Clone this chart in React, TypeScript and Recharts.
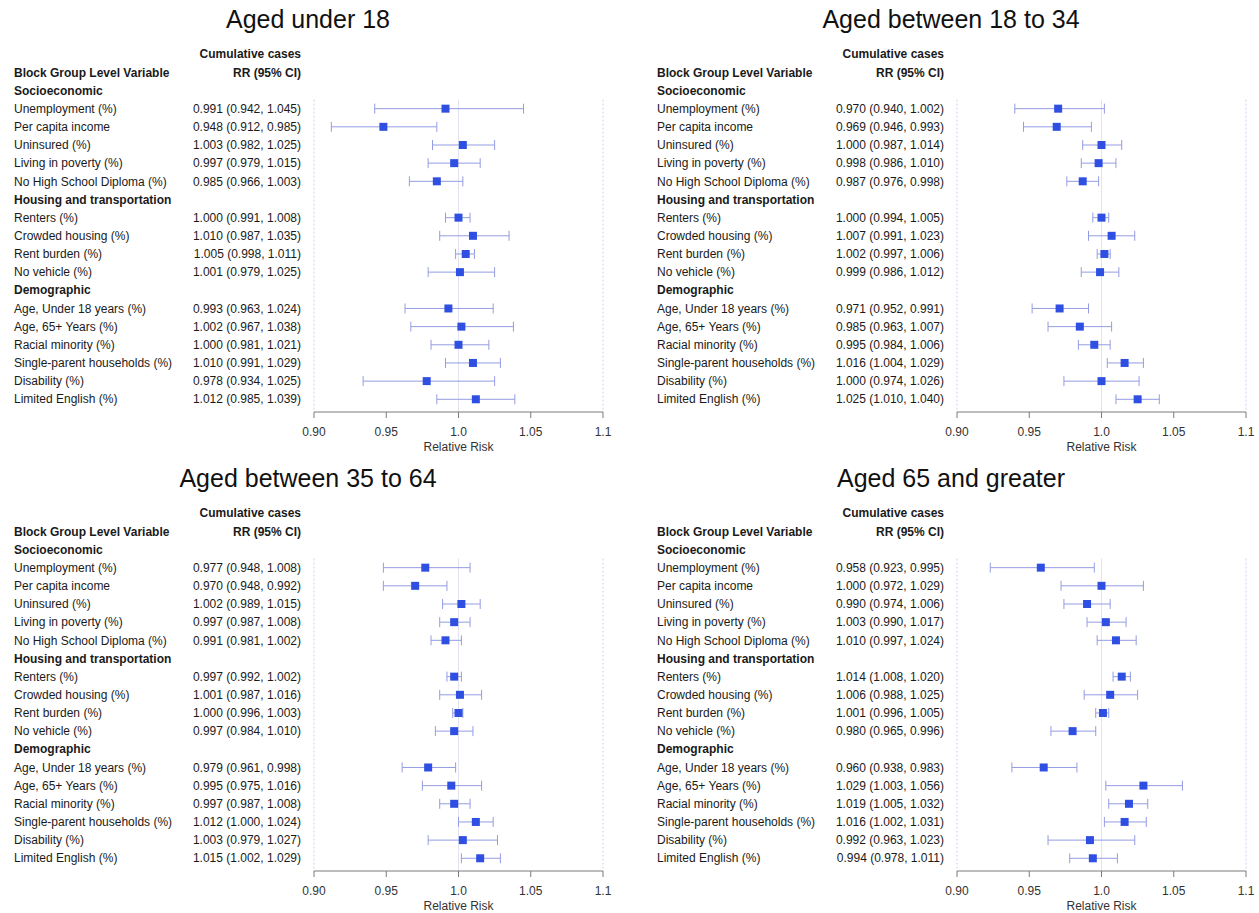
import { ScatterChart, Scatter, XAxis, YAxis, ZAxis, ErrorBar, ReferenceLine } from 'recharts'

const FONT = '"Liberation Sans", Arial, Helvetica, sans-serif'

const panelTitles = ['Aged under 18', 'Aged between 18 to 34', 'Aged between 35 to 64', 'Aged 65 and greater']

const sections = ['Socioeconomic', 'Housing and transportation', 'Demographic']

const variables = [
  'Unemployment (%)',
  'Per capita income',
  'Uninsured (%)',
  'Living in poverty (%)',
  'No High School Diploma (%)',
  'Renters (%)',
  'Crowded housing (%)',
  'Rent burden (%)',
  'No vehicle (%)',
  'Age, Under 18 years (%)',
  'Age, 65+ Years (%)',
  'Racial minority (%)',
  'Single-parent households (%)',
  'Disability (%)',
  'Limited English (%)',
]

// which section each variable belongs to
const variableSection = [0, 0, 0, 0, 0, 1, 1, 1, 1, 2, 2, 2, 2, 2, 2]

// [RR, lower 95% CI, upper 95% CI]
const under18 = [
  [0.991, 0.942, 1.045], [0.948, 0.912, 0.985], [1.003, 0.982, 1.025], [0.997, 0.979, 1.015], [0.985, 0.966, 1.003],
  [1.000, 0.991, 1.008], [1.010, 0.987, 1.035], [1.005, 0.998, 1.011], [1.001, 0.979, 1.025],
  [0.993, 0.963, 1.024], [1.002, 0.967, 1.038], [1.000, 0.981, 1.021], [1.010, 0.991, 1.029], [0.978, 0.934, 1.025], [1.012, 0.985, 1.039],
]
const aged18to34 = [
  [0.970, 0.940, 1.002], [0.969, 0.946, 0.993], [1.000, 0.987, 1.014], [0.998, 0.986, 1.010], [0.987, 0.976, 0.998],
  [1.000, 0.994, 1.005], [1.007, 0.991, 1.023], [1.002, 0.997, 1.006], [0.999, 0.986, 1.012],
  [0.971, 0.952, 0.991], [0.985, 0.963, 1.007], [0.995, 0.984, 1.006], [1.016, 1.004, 1.029], [1.000, 0.974, 1.026], [1.025, 1.010, 1.040],
]
const aged35to64 = [
  [0.977, 0.948, 1.008], [0.970, 0.948, 0.992], [1.002, 0.989, 1.015], [0.997, 0.987, 1.008], [0.991, 0.981, 1.002],
  [0.997, 0.992, 1.002], [1.001, 0.987, 1.016], [1.000, 0.996, 1.003], [0.997, 0.984, 1.010],
  [0.979, 0.961, 0.998], [0.995, 0.975, 1.016], [0.997, 0.987, 1.008], [1.012, 1.000, 1.024], [1.003, 0.979, 1.027], [1.015, 1.002, 1.029],
]
const aged65plus = [
  [0.958, 0.923, 0.995], [1.000, 0.972, 1.029], [0.990, 0.974, 1.006], [1.003, 0.990, 1.017], [1.010, 0.997, 1.024],
  [1.014, 1.008, 1.020], [1.006, 0.988, 1.025], [1.001, 0.996, 1.005], [0.980, 0.965, 0.996],
  [0.960, 0.938, 0.983], [1.029, 1.003, 1.056], [1.019, 1.005, 1.032], [1.016, 1.002, 1.031], [0.992, 0.963, 1.023], [0.994, 0.978, 1.011],
]

const xTicks = [0.9, 0.95, 1.0, 1.05, 1.1]
const xTickLabels = ['0.90', '0.95', '1.0', '1.05', '1.1']

type Row = { idx: number, kind: 'top' | 'head' | 'section' | 'var', label?: string, value?: string }

// row index -> what gets written in the text columns
function buildRows(values: number[][]) {
  const rows: Row[] = [
    { idx: -2, kind: 'top', value: 'Cumulative cases' },
    { idx: -1, kind: 'head', label: 'Block Group Level Variable', value: 'RR (95% CI)' },
  ]
  const points: { x: number, y: number, err: number[] }[] = []
  let idx = 0
  let current = -1
  variables.forEach((name, i) => {
    if (variableSection[i] !== current) {
      current = variableSection[i]
      rows.push({ idx, kind: 'section', label: sections[current] })
      idx++
    }
    const [rr, lo, hi] = values[i]
    rows.push({ idx, kind: 'var', label: name, value: `${rr.toFixed(3)} (${lo.toFixed(3)}, ${hi.toFixed(3)})` })
    points.push({ x: rr, y: idx, err: [rr - lo, hi - rr] })
    idx++
  })
  return { rows, points, last: idx - 1 }
}

function RowTick(props: any) {
  const { y, payload, rows } = props
  const row: Row | undefined = rows.find((r: Row) => r.idx === payload.value)
  if (!row) return <g />
  const bold = row.kind !== 'var'
  return (
    <g>
      {row.label && (
        <text x={14} y={y} dy="0.35em" fontSize={12} fontFamily={FONT} fill="#1a1a1a" fontWeight={bold ? 700 : 400}>
          {row.label}
        </text>
      )}
      {row.value && (
        <text x={301} y={y} dy="0.35em" textAnchor="end" fontSize={12} fontFamily={FONT} fill="#1a1a1a" fontWeight={bold ? 700 : 400}>
          {row.value}
        </text>
      )}
    </g>
  )
}

function ForestPanel({ title, values, left, top }: { title: string, values: number[][], left: number, top: number }) {
  const { rows, points, last } = buildRows(values)
  const tickIdx = rows.map(r => r.idx)

  return (
    <div style={{ position: 'absolute', left, top, width: 640, height: 460 }}>
      <div style={{ position: 'absolute', left: 108, width: 400, top: 7, lineHeight: '25px', textAlign: 'center', fontSize: 25, fontFamily: FONT, color: '#111' }}>
        {title}
      </div>
      <div style={{ position: 'absolute', left: 0, top: 0 }}>
        <ScatterChart width={640} height={460} margin={{ top: 36, right: 37, bottom: 8, left: 0 }}>
          <XAxis
            type="number"
            dataKey="x"
            domain={[0.9, 1.1]}
            ticks={xTicks}
            interval={0}
            tickFormatter={(v: number) => xTickLabels[xTicks.indexOf(v)] ?? String(v)}
            axisLine={{ stroke: '#7a7a7a' }}
            tickLine={{ stroke: '#7a7a7a' }}
            tickSize={6}
            tickMargin={9}
            height={40}
            tick={{ fontSize: 12, fill: '#333', fontFamily: FONT }}
            label={{ value: 'Relative Risk', position: 'insideBottom', offset: 1, fontSize: 12, fill: '#333', fontFamily: FONT }}
          />
          <YAxis
            type="number"
            dataKey="y"
            domain={[-3, last + 0.7]}
            reversed
            ticks={tickIdx}
            interval={0}
            width={314}
            axisLine={false}
            tickLine={false}
            tick={(p: any) => <RowTick {...p} rows={rows} />}
          />
          <ZAxis range={[40, 40]} />
          <ReferenceLine segment={[{ x: 0.9, y: 0.5 }, { x: 0.9, y: last + 0.7 }]} stroke="#ccd2f4" strokeDasharray="2 2" />
          <ReferenceLine segment={[{ x: 1.1, y: 0.5 }, { x: 1.1, y: last + 0.7 }]} stroke="#ccd2f4" strokeDasharray="2 2" />
          <ReferenceLine segment={[{ x: 1.0, y: 0.5 }, { x: 1.0, y: last + 0.7 }]} stroke="#e2e2f0" />
          <Scatter data={points} fill="#2f4fe2" shape="square" legendType="none" isAnimationActive={false}>
            <ErrorBar dataKey="err" direction="x" width={5} stroke="#949ce2" strokeWidth={1} />
          </Scatter>
        </ScatterChart>
      </div>
    </div>
  )
}

export default function App() {
  const panels = [under18, aged18to34, aged35to64, aged65plus]
  return (
    <div style={{ position: 'absolute', left: 0, top: 0, width: 1259, height: 913, background: '#fff' }}>
      {panels.map((values, i) => (
        <ForestPanel
          key={panelTitles[i]}
          title={panelTitles[i]}
          values={values}
          left={(i % 2) * 643}
          top={Math.floor(i / 2) * 459}
        />
      ))}
    </div>
  )
}
